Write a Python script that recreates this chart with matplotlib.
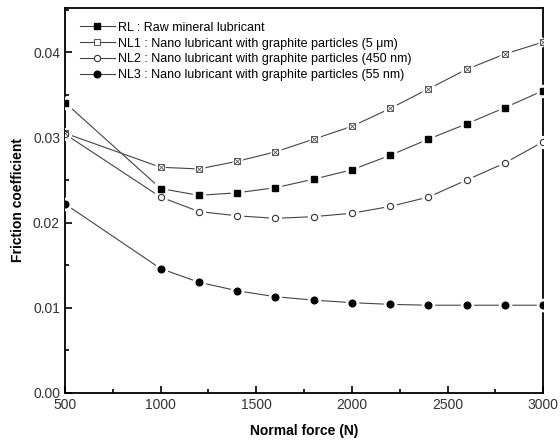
import matplotlib.pyplot as plt
from matplotlib.ticker import MultipleLocator, FormatStrFormatter

plt.rcParams['font.family'] = ['Liberation Sans', 'DejaVu Sans']

force = [500, 1000, 1200, 1400, 1600, 1800, 2000, 2200, 2400, 2600, 2800, 3000]
rl = [0.0341, 0.0240, 0.0232, 0.0235, 0.0241, 0.0251, 0.0262, 0.0279, 0.0298, 0.0316, 0.0335, 0.0355]
nl1 = [0.0305, 0.0265, 0.0263, 0.0272, 0.0283, 0.0298, 0.0313, 0.0334, 0.0357, 0.0380, 0.0398, 0.0412]
nl2 = [0.0304, 0.0230, 0.0213, 0.0208, 0.0205, 0.0207, 0.0211, 0.0219, 0.0230, 0.0250, 0.0270, 0.0295]
nl3 = [0.0222, 0.0146, 0.0130, 0.0120, 0.0113, 0.0109, 0.0106, 0.0104, 0.0103, 0.0103, 0.0103, 0.0103]

labels = ['RL : Raw mineral lubricant',
          'NL1 : Nano lubricant with graphite particles (5 \u03bcm)',
          'NL2 : Nano lubricant with graphite particles (450 nm)',
          'NL3 : Nano lubricant with graphite particles (55 nm)']

fig = plt.figure(figsize=(5.6, 4.44), dpi=100)
ax = fig.add_axes([0.116, 0.115, 0.854, 0.867])

styles = [
    dict(marker='s', mfc='black', mec='black', ms=4),
    dict(marker='X', mfc='white', mec='#555555', ms=5, mew=0.6),
    dict(marker='o', mfc='white', mec='#333333', ms=4.5, mew=0.8),
    dict(marker='o', mfc='black', mec='black', ms=4.8),
]

handles = []
for ys, st, lab in zip([rl, nl1, nl2, nl3], styles, labels):
    # line, then white halo to leave gaps around the symbols
    ax.plot(force, ys, color='#444444', lw=0.8, zorder=2)
    ax.plot(force, ys, ls='none', marker=st['marker'], ms=st['ms'] + 4,
            mfc='white', mec='white', zorder=3)
    if st['marker'] == 'X':
        ax.plot(force, ys, ls='none', marker='s', ms=4.8, mfc='white',
                mec='#555555', mew=0.7, zorder=4)
        ax.plot(force, ys, ls='none', marker='x', ms=3.8, mec='#555555',
                mew=0.6, zorder=5)
        h, = ax.plot([], [], color='#444444', lw=0.8, marker='s', ms=4.5,
                     mfc='white', mec='#555555', mew=0.7)
    else:
        ax.plot(force, ys, ls='none', zorder=4, **st)
        h, = ax.plot([], [], color='#444444', lw=0.8, **st)
    handles.append(h)

ax.set_xlim(500, 3000)
ax.set_ylim(0, 0.0452)
ax.xaxis.set_major_locator(MultipleLocator(500))
ax.xaxis.set_minor_locator(MultipleLocator(250))
ax.yaxis.set_major_locator(MultipleLocator(0.01))
ax.yaxis.set_minor_locator(MultipleLocator(0.005))
ax.yaxis.set_major_formatter(FormatStrFormatter('%.2f'))
ax.tick_params(which='both', direction='in', top=False, right=False,
               labelsize=10, labelcolor='#333333', width=1.2)
ax.tick_params(which='major', length=5)
ax.tick_params(which='minor', length=3)
for sp in ax.spines.values():
    sp.set_linewidth(1.3)

ax.set_xlabel('Normal force (N)', fontsize=10, fontweight='bold', labelpad=9)
ax.set_ylabel('Friction coefficient', fontsize=10, fontweight='bold', labelpad=6)

ax.legend(handles, labels, loc='upper left', frameon=False, fontsize=9,
          labelspacing=0.3, handlelength=2.8, handletextpad=0.3,
          borderaxespad=0.4, bbox_to_anchor=(0.01, 0.99))

fig.savefig('out.png', dpi=100)
